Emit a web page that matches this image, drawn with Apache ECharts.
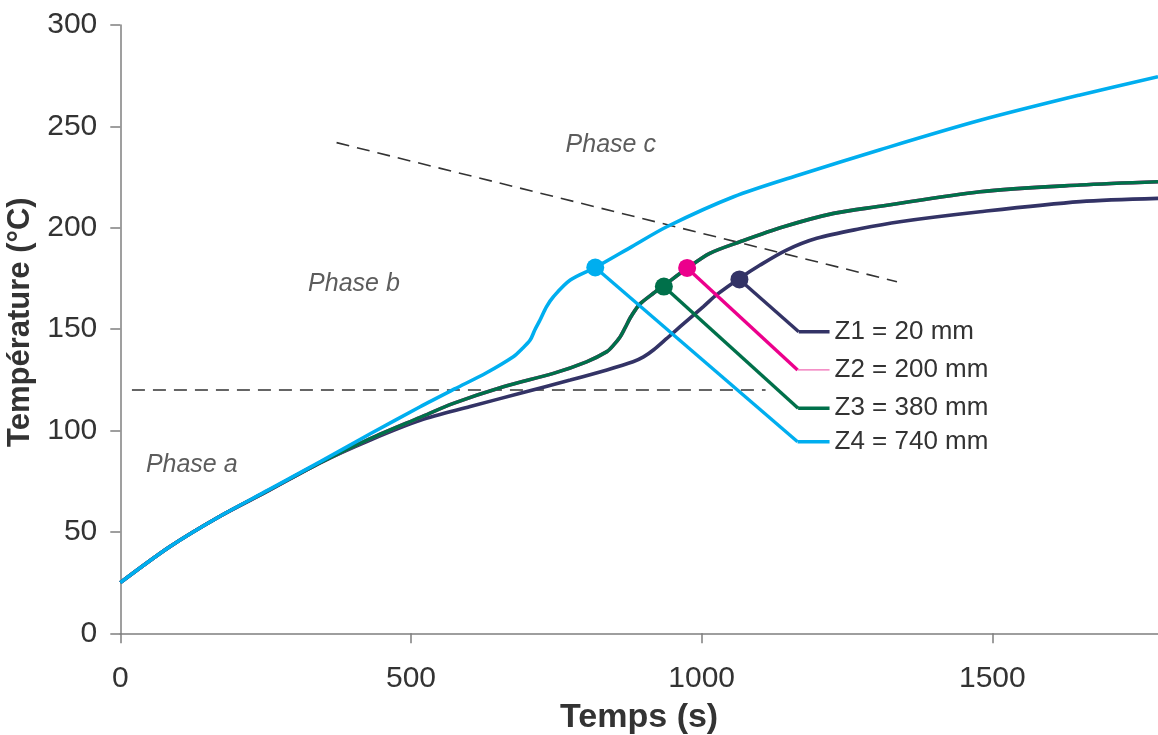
<!DOCTYPE html>
<html><head><meta charset="utf-8">
<script src="https://cdn.jsdelivr.net/npm/echarts@6/dist/echarts.min.js"></script>
<style>html,body{margin:0;padding:0;background:#fff}#c{width:1158px;height:735px}</style>
</head><body><div id="c"></div>
<script>
// ---- data (time in s, temperature in °C) ----
const z1Time = [0, 85, 170, 255, 345, 430, 516, 602, 688, 774, 837, 882, 900, 917, 940, 963, 1003, 1026, 1065, 1100, 1146, 1198, 1272, 1341, 1479, 1651, 1785];
const z1Temp = [25, 42.7, 57.5, 70.3, 84.3, 95.3, 105, 111.8, 118.4, 124.9, 129.9, 133.9, 136.3, 139.7, 145.4, 151.2, 161.1, 167, 175, 181.5, 189, 194.8, 199.5, 203, 207.9, 212.9, 214.5];

const z2Time = [0, 85, 170, 255, 345, 430, 516, 573, 659, 745, 802, 837, 848, 860, 868, 877, 886, 894, 917, 935, 975, 1014, 1066, 1141, 1227, 1307, 1479, 1651, 1785];
const z2Temp = [25, 42.7, 57.5, 70.5, 84.3, 96, 106.5, 113.4, 121.6, 128.2, 133.9, 138.9, 142, 146.3, 150.5, 155.5, 159.5, 162.5, 167.7, 171.5, 180, 187.4, 193.1, 200.5, 207.1, 210.6, 217.8, 221.1, 222.7];

const z3Time = [0, 85, 170, 255, 345, 430, 516, 573, 659, 745, 802, 837, 848, 860, 868, 877, 886, 894, 917, 935, 975, 1014, 1066, 1141, 1227, 1307, 1479, 1651, 1785];
const z3Temp = [25, 42.7, 57.5, 70.5, 84.3, 96, 106.5, 113.4, 121.6, 128.2, 133.9, 138.9, 142, 146.3, 150.5, 155.5, 159.5, 162.5, 167.7, 171.5, 180, 187.4, 193.1, 200.5, 207.1, 210.6, 217.8, 221.1, 222.7];

const z4Time = [0, 85, 170, 255, 345, 430, 515, 575, 630, 676, 690, 705, 713, 722, 733, 745, 774, 817, 880, 940, 1055, 1170, 1307, 1479, 1651, 1785];
const z4Temp = [25, 42.7, 57.5, 70.7, 84.8, 98.4, 111.6, 120.5, 128.5, 136.4, 140, 144.6, 149.6, 154.5, 161, 166, 174.2, 180.4, 190.7, 200.5, 215.3, 226.3, 238.5, 253, 265.5, 274.5];

// legend labels and marked points (callouts)
const seriesNames = ['Z1 = 20 mm', 'Z2 = 200 mm', 'Z3 = 380 mm', 'Z4 = 740 mm'];
const dotTime = [1065, 975, 935, 817];
const dotTemp = [174.5, 180.2, 171, 180.4];
const cornerTime = [1167, 1165, 1166, 1165];
const cornerTemp = [148.7, 129.9, 111, 94.5];
const labelEndTime = [1220, 1220, 1220, 1220];

// phase boundary lines
const phaseABTime = [20, 1110];
const phaseABTemp = [120, 120];
const phaseBCTime = [372, 1336];
const phaseBCTemp = [242, 173.4];

// phase annotations
const phaseNames = ['Phase a', 'Phase b', 'Phase c'];
const phaseTime = [44, 323, 766];
const phaseTemp = [83, 172, 241];

const xTickStep = 500;
const yTickStep = 50;

const colors = ['#333366', '#EC008C', '#00704A', '#00AEEF'];
const FONT = 'Liberation Sans, Arial, sans-serif';

const zip = (a, b) => a.map((v, i) => [v, b[i]]);
const curves = [[z1Time, z1Temp], [z2Time, z2Temp], [z3Time, z3Temp], [z4Time, z4Temp]];

const series = [];
// curves: draw Z2 first (hidden beneath Z3), then Z1, Z3, Z4
[1, 0, 2, 3].forEach(i => {
  series.push({
    type: 'line', name: seriesNames[i], data: zip(curves[i][0], curves[i][1]),
    smooth: 0.3, showSymbol: false, lineStyle: { color: colors[i], width: 3.6 },
    z: 2 + i, silent: true
  });
});
// callout leaders
seriesNames.forEach((n, i) => {
  const thinTail = (i === 1);
  series.push({
    type: 'line', name: n + ' leader',
    data: [[dotTime[i], dotTemp[i]], [cornerTime[i], cornerTemp[i]]],
    showSymbol: false, smooth: false,
    lineStyle: { color: colors[i], width: 3.4 }, z: 6, silent: true
  });
  series.push({
    type: 'line', name: n + ' tail',
    data: [[cornerTime[i], cornerTemp[i]], [labelEndTime[i], cornerTemp[i]]],
    showSymbol: false, smooth: false,
    lineStyle: { color: thinTail ? '#F06BB4' : colors[i], width: thinTail ? 1.4 : 3.4 }, z: 6, silent: true,
    endLabel: { show: true, distance: 5, formatter: n, fontSize: 26, color: '#333', fontFamily: FONT }
  });
  series.push({
    type: 'scatter', name: n + ' dot', data: [[dotTime[i], dotTemp[i]]],
    symbol: 'circle', symbolSize: 18, itemStyle: { color: colors[i], opacity: 1 }, z: 10, silent: true
  });
});
// phase boundaries
[[phaseABTime, phaseABTemp], [phaseBCTime, phaseBCTemp]].forEach(([t, v]) => {
  series.push({
    type: 'line', data: zip(t, v), showSymbol: false,
    lineStyle: { color: '#333', width: 1.6, type: [13, 8] }, z: 1, silent: true
  });
});
// phase labels
series.push({
  type: 'scatter', symbolSize: 0, silent: true,
  data: phaseNames.map((n, i) => ({ value: [phaseTime[i], phaseTemp[i]], name: n })),
  label: { show: true, position: 'right', distance: 0, formatter: p => p.name,
    fontSize: 25, fontStyle: 'italic', color: '#333', fontFamily: FONT }
});

const chart = echarts.init(document.getElementById('c'), null, { renderer: 'canvas' });
chart.setOption({
  animation: false,
  backgroundColor: '#fff',
  grid: { left: 120.3, right: 0, top: 25, bottom: 101.7, containLabel: false, outerBoundsMode: 'none' },
  xAxis: {
    type: 'value', min: 0, max: 1785, interval: xTickStep,
    name: 'Temps (s)', nameLocation: 'middle', nameGap: 67,
    nameTextStyle: { fontSize: 34, fontWeight: 'bold', color: '#333', fontFamily: FONT },
    axisLine: { show: true, lineStyle: { color: '#7f7f7f', width: 1.5 } },
    axisTick: { show: true, length: 10, lineStyle: { color: '#7f7f7f', width: 1.5 } },
    axisLabel: { fontSize: 30, color: '#333', margin: 30, showMaxLabel: false, fontFamily: FONT,
      formatter: v => String(v) },
    splitLine: { show: false }
  },
  yAxis: {
    type: 'value', min: 0, max: 300, interval: yTickStep,
    name: 'Température (°C)', nameLocation: 'middle', nameGap: 69,
    nameTextStyle: { fontSize: 31, fontWeight: 'bold', color: '#333', fontFamily: FONT, padding: [0, 0, 0, 14] },
    axisLine: { show: true, lineStyle: { color: '#7f7f7f', width: 1.5 } },
    axisTick: { show: true, length: 10, lineStyle: { color: '#7f7f7f', width: 1.5 } },
    axisLabel: { fontSize: 30, color: '#333', margin: 23, fontFamily: FONT, formatter: v => String(v) },
    splitLine: { show: false }
  },
  series: series
});
</script>
</body></html>
